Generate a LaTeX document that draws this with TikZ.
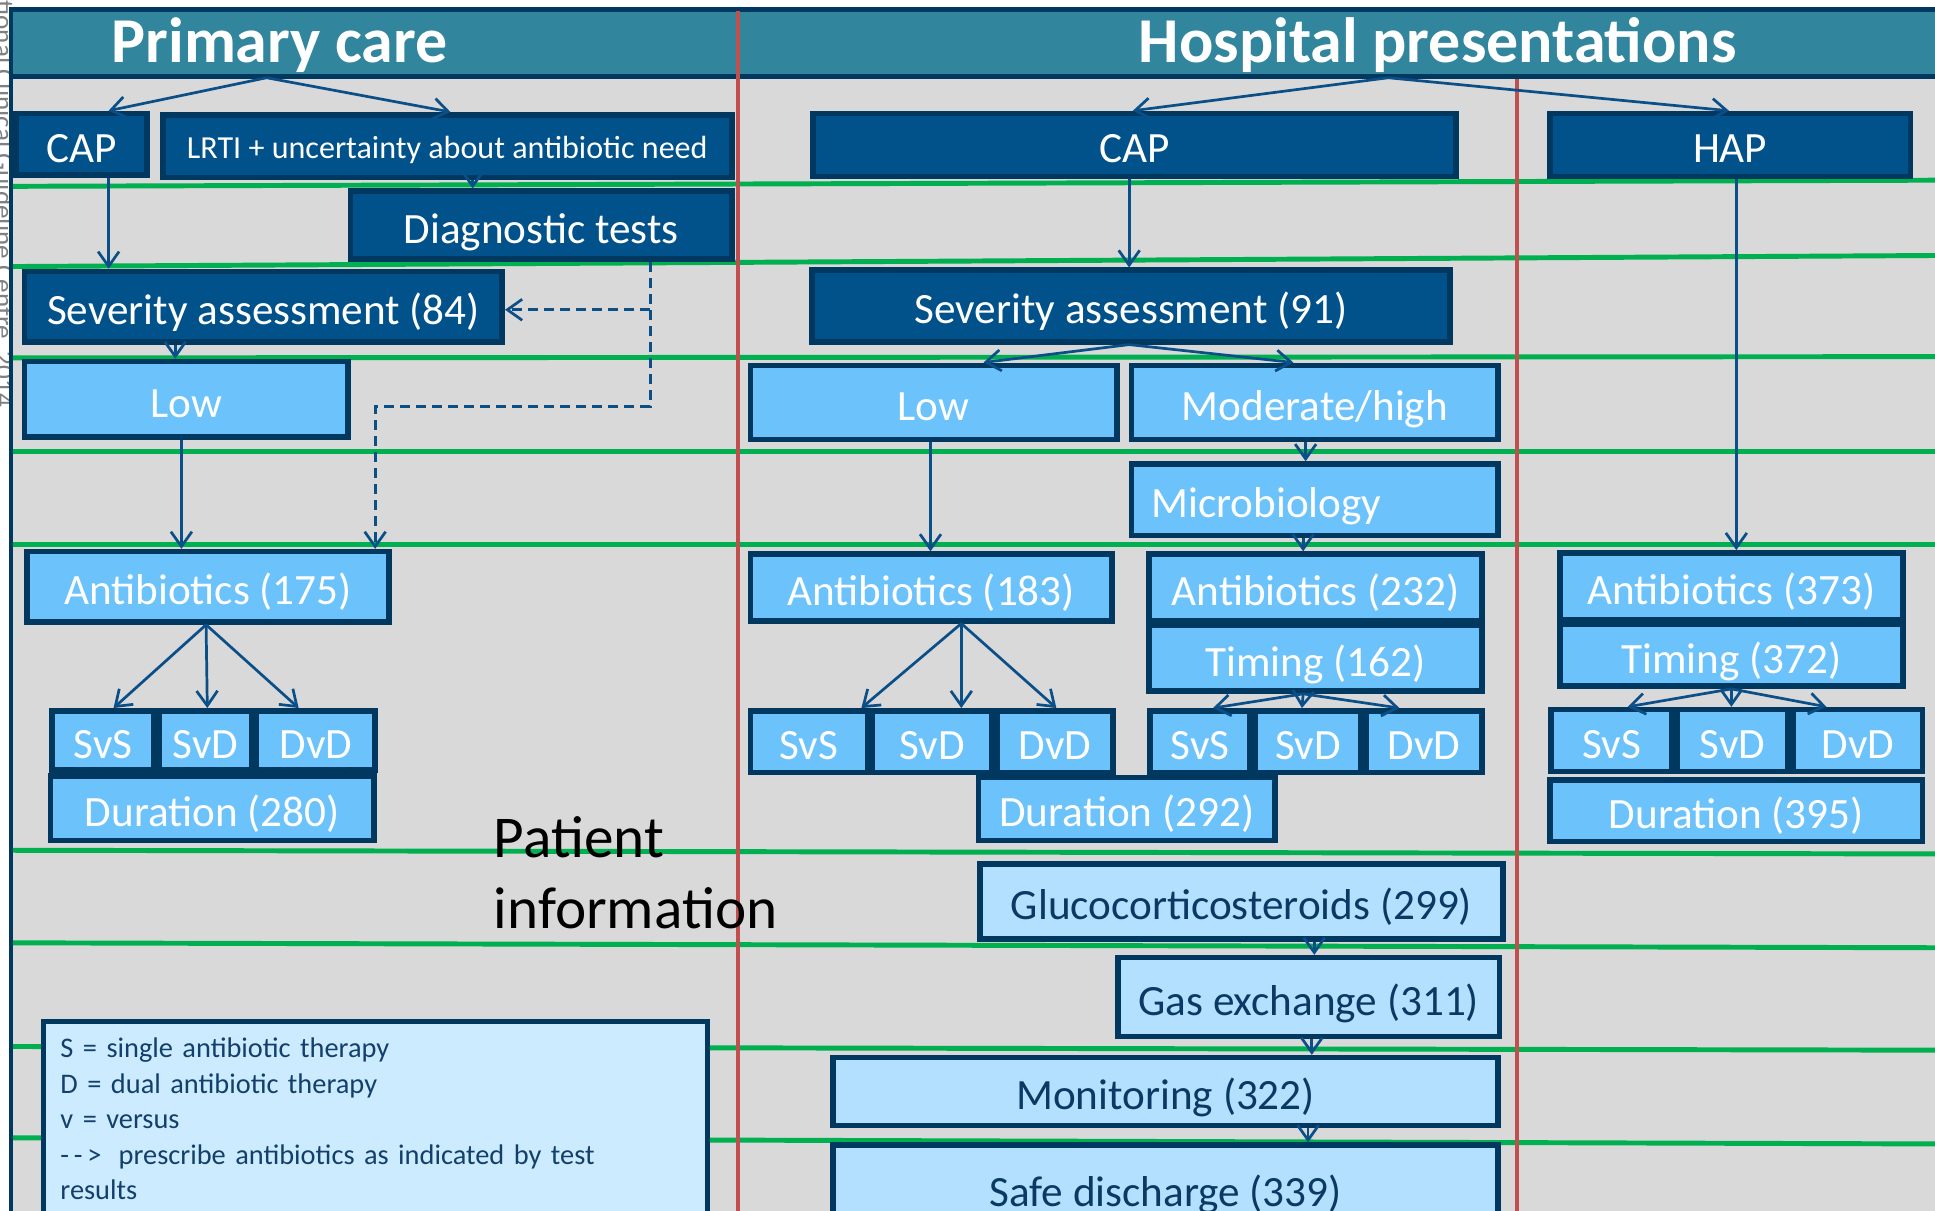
\documentclass[tikz,border=0pt]{standalone}
\usepackage{fontspec}
\setmainfont{Carlito}
\usetikzlibrary{arrows.meta,calc}
\definecolor{bggray}{HTML}{D9D9D9}
\definecolor{bandteal}{HTML}{31859C}
\definecolor{navyline}{HTML}{00385F}
\definecolor{darkfill}{HTML}{01518A}
\definecolor{lightfill}{HTML}{6CC3FC}
\definecolor{palefill}{HTML}{B3E0FF}
\definecolor{legfill}{HTML}{CCEBFF}
\definecolor{connc}{HTML}{0B4F88}
\definecolor{gline}{HTML}{00B050}
\definecolor{rline}{HTML}{C0504D}
\definecolor{paletext}{HTML}{0A3A63}
\definecolor{legtext}{HTML}{12406B}
\newcommand\bx[7]{\node[#1, minimum width={(#5-(#3))*1pt-4pt}, minimum height={(#6-(#4))*1pt-4pt}] (#2) at ({(#3+#5)/2},{(#4+#6)/2}) {#7};}
\tikzset{
  basebox/.style={draw=navyline, line width=4.5pt, inner sep=0pt, font=\fontsize{35}{40}\selectfont, text height=37pt, text depth=8pt},
  dbox/.style={basebox, fill=darkfill, text=white},
  lbox/.style={basebox, fill=lightfill, text=white},
  pbox/.style={basebox, fill=palefill, text=paletext},
  smallfont/.style={font=\fontsize{26}{30}\selectfont, text height=26pt, text depth=6pt},
  conn/.style={draw=connc, line width=2.2pt, -{Straight Barb[length=12pt,width=17pt,line width=2.2pt]}},
  dsh/.style={conn, dash pattern=on 8pt off 5pt},
  gl/.style={draw=gline, line width=4pt},
  rl/.style={draw=rline, line width=3.5pt},
}
\begin{document}
\begin{tikzpicture}[x=1pt,y=-1pt]
\clip (0,0) rectangle (1568,981);
\fill[white] (0,0) rectangle (1568,981);
% watermark text at left edge
\node[rotate=-90, anchor=base east, text=gray, font=\fontsize{22}{26}\selectfont, inner sep=0pt] (wm) at (-4,330) {National Clinical Guideline Centre, 2014};
% background
\fill[bggray] (9,6) rectangle (1575,990);
% green lines
\draw[gl] (8,151) -- (1575,146);
\draw[gl] (8,216) -- (1575,207);
\draw[gl] (8,290) -- (1575,289);
\draw[gl] (8,366) -- (1575,366);
\draw[gl] (8,441) -- (1575,441);
\draw[gl] (8,689) -- (1575,692);
\draw[gl] (8,764) -- (1575,768);
\draw[gl] (8,848) -- (1575,851);
\draw[gl] (8,922) -- (1575,927);
% title band
\fill[bandteal] (8,6) rectangle (1575,62);
\draw[navyline, line width=4pt] (8,8) -- (1575,8);
\draw[navyline, line width=4pt] (8,62) -- (1575,62);
% red lines
\draw[rl] (598,9) -- (598,990);
\draw[rl] (1229,64) -- (1229,990);
% left navy line
\draw[navyline, line width=3pt] (9,6) -- (9,990);
% titles
\node[anchor=base, text=white, font=\fontsize{51.8}{56}\selectfont\bfseries, inner sep=0pt] (t1) at (226.5,51) {Primary care};
\node[anchor=base, text=white, font=\fontsize{51.8}{56}\selectfont\bfseries, inner sep=0pt] (t2) at (1165,51) {Hospital presentations};
% primary care boxes
\bx{dbox}{cap1}{11}{90}{121}{144}{CAP}
\bx{dbox,smallfont}{lrti}{130}{91}{595}{146}{LRTI + uncertainty about antibiotic need\hspace{8pt}}
\bx{dbox}{diag}{282}{153}{595}{212}{Diagnostic tests}
\bx{dbox}{sev1}{18}{218}{409}{279}{Severity assessment (84)}
\bx{lbox}{low1}{18}{291}{284}{356}{Low}
\bx{lbox}{ab1}{20}{445}{317}{506}{Antibiotics (175)}
\bx{lbox}{svs1}{40}{574}{127}{626}{SvS}
\bx{lbox}{svd1}{127}{574}{206}{626}{SvD}
\bx{lbox}{dvd1}{206}{574}{306}{626}{DvD}
\bx{lbox}{dur1}{39}{627}{305}{683}{Duration (280)}
% hospital boxes
\bx{dbox}{cap2}{657}{90}{1182}{145}{CAP}
\bx{dbox}{hap}{1254}{90}{1550}{145}{HAP}
\bx{dbox}{sev2}{656}{217}{1177}{279}{Severity assessment (91)}
\bx{lbox}{low2}{606}{294}{907}{358}{Low}
\bx{lbox}{mod}{915}{294}{1216}{358}{Moderate/high}
\bx{lbox}{micro}{915}{374}{1216}{436}{\makebox[265pt][l]{Microbiology}}
\bx{lbox}{ab2}{606}{447}{903}{505}{Antibiotics (183)}
\bx{lbox}{ab3}{929}{447}{1203}{505}{Antibiotics (232)}
\bx{lbox}{tim3}{929}{505}{1203}{562}{Timing (162)}
\bx{lbox}{svs2}{606}{574}{705}{628}{SvS}
\bx{lbox}{svd2}{705}{574}{806}{628}{SvD}
\bx{lbox}{dvd2}{806}{574}{904}{628}{DvD}
\bx{lbox}{svs3}{930}{574}{1015}{628}{SvS}
\bx{lbox}{svd3}{1015}{574}{1105}{628}{SvD}
\bx{lbox}{dvd3}{1105}{574}{1203}{628}{DvD}
\bx{lbox}{dur2}{791}{628}{1035}{683}{Duration (292)}
\bx{lbox}{ab4}{1262}{446}{1544}{504}{Antibiotics (373)}
\bx{lbox}{tim4}{1262}{504}{1544}{558}{Timing (372)}
\bx{lbox}{svs4}{1255}{573}{1357}{627}{SvS}
\bx{lbox}{svd4}{1357}{573}{1451}{627}{SvD}
\bx{lbox}{dvd4}{1451}{573}{1560}{627}{DvD}
\bx{lbox}{dur4}{1254}{630}{1560}{684}{Duration (395)}
\bx{pbox}{gluco}{792}{698}{1220}{763}{Glucocorticosteroids (299)}
\bx{pbox}{gas}{904}{774}{1217}{842}{Gas exchange (311)}
\bx{pbox}{mon}{673}{855}{1216}{914}{Monitoring (322)}
\bx{pbox}{safe}{673}{926}{1216}{1000}{Safe discharge (339)}
% patient information
\node[anchor=base west, align=left, font=\fontsize{48}{57}\selectfont, text=black, inner sep=0pt] (pinfo) at (400,752) {Patient\\information};
% legend
\node[anchor=north west, draw=navyline, line width=4pt, fill=legfill, minimum width=538pt, text width=510pt, inner xsep=14pt, inner ysep=13pt, align=left, text=legtext, font=\fontsize{23}{28.8}\selectfont] (legend) at (33,826)
{S = single antibiotic therapy\\
D = dual antibiotic therapy\\
v = versus\\
{-}\,{-}\,{>}\hspace{14pt}prescribe antibiotics as indicated by test\\
results\\[8pt]};
% connectors
\coordinate (sp1) at (216,63);
\coordinate (sp2) at (1125,63);
\draw[conn] (sp1) -- ([xshift=22pt]cap1.north);
\draw[conn] (sp1) -- ([xshift=2.5pt]lrti.north);
\draw[conn] (sp2) -- ([xshift=-1.5pt]cap2.north);
\draw[conn] (sp2) -- ([xshift=-1pt]hap.north);
\draw[conn] ([xshift=22pt]cap1.south) -- ([xshift=22pt]cap1.south |- sev1.north);
\draw[conn] ([xshift=20.5pt]lrti.south) -- ([xshift=20.5pt]lrti.south |- diag.north);
\draw[dsh] ([xshift=88.5pt]diag.south) |- ([yshift=-2.5pt]sev1.east);
\draw[dsh] ([xshift=88.5pt]diag.south) -- ++(0,117) -| ([xshift=135.5pt]ab1.north);
\draw[conn] ([xshift=-71.5pt]sev1.south) -- ([xshift=-71.5pt]sev1.south |- low1.north);
\draw[conn] ([xshift=-4pt]low1.south) -- ([xshift=-4pt]low1.south |- ab1.north);
\draw[conn] ([xshift=-1.5pt]ab1.south) -- ([xshift=8.5pt]svs1.north);
\draw[conn] ([xshift=-1.5pt]ab1.south) -- ([xshift=1.5pt]svd1.north);
\draw[conn] ([xshift=-1.5pt]ab1.south) -- ([xshift=-14pt]dvd1.north);
\draw[conn] ([xshift=-4.5pt]cap2.south) -- ([xshift=-4.5pt]cap2.south |- sev2.north);
\draw[conn] ([xshift=-1.5pt]sev2.south) -- ([xshift=40.5pt]low2.north);
\draw[conn] ([xshift=-1.5pt]sev2.south) -- ([xshift=-17.5pt]mod.north);
\draw[conn] ([xshift=5pt]hap.south) -- ([xshift=5pt]hap.south |- ab4.north);
\draw[conn] ([xshift=-2.5pt]low2.south) -- ([xshift=-2.5pt]low2.south |- ab2.north);
\draw[conn] ([xshift=-7.5pt]mod.south) -- ([xshift=-7.5pt]mod.south |- micro.north);
\draw[conn] ([xshift=-9.5pt]micro.south) -- ([xshift=-9.5pt]micro.south |- ab3.north);
\draw[conn] ([xshift=24.5pt]ab2.south) -- ([xshift=42.5pt]svs2.north);
\draw[conn] ([xshift=24.5pt]ab2.south) -- ([xshift=23.5pt]svd2.north);
\draw[conn] ([xshift=24.5pt]ab2.south) -- ([xshift=1pt]dvd2.north);
\draw[conn] ([xshift=-10pt]tim3.south) -- ([xshift=10.5pt]svs3.north);
\draw[conn] ([xshift=-10pt]tim3.south) -- ([xshift=-5pt]svd3.north);
\draw[conn] ([xshift=-10pt]tim3.south) -- ([xshift=-20pt]dvd3.north);
\draw[conn] (tim4.south) -- ([xshift=13pt]svs4.north);
\draw[conn] (tim4.south) -- ([xshift=-1pt]svd4.north);
\draw[conn] (tim4.south) -- ([xshift=-25.5pt]dvd4.north);
\draw[conn] ([xshift=59pt]gluco.south) -- ([xshift=59pt]gluco.south |- gas.north);
\draw[conn] ([xshift=2.5pt]gas.south) -- ([xshift=2.5pt]gas.south |- mon.north);
\draw[conn] ([xshift=115.5pt]mon.south) -- ([xshift=115.5pt]mon.south |- safe.north);
\end{tikzpicture}
\end{document}
